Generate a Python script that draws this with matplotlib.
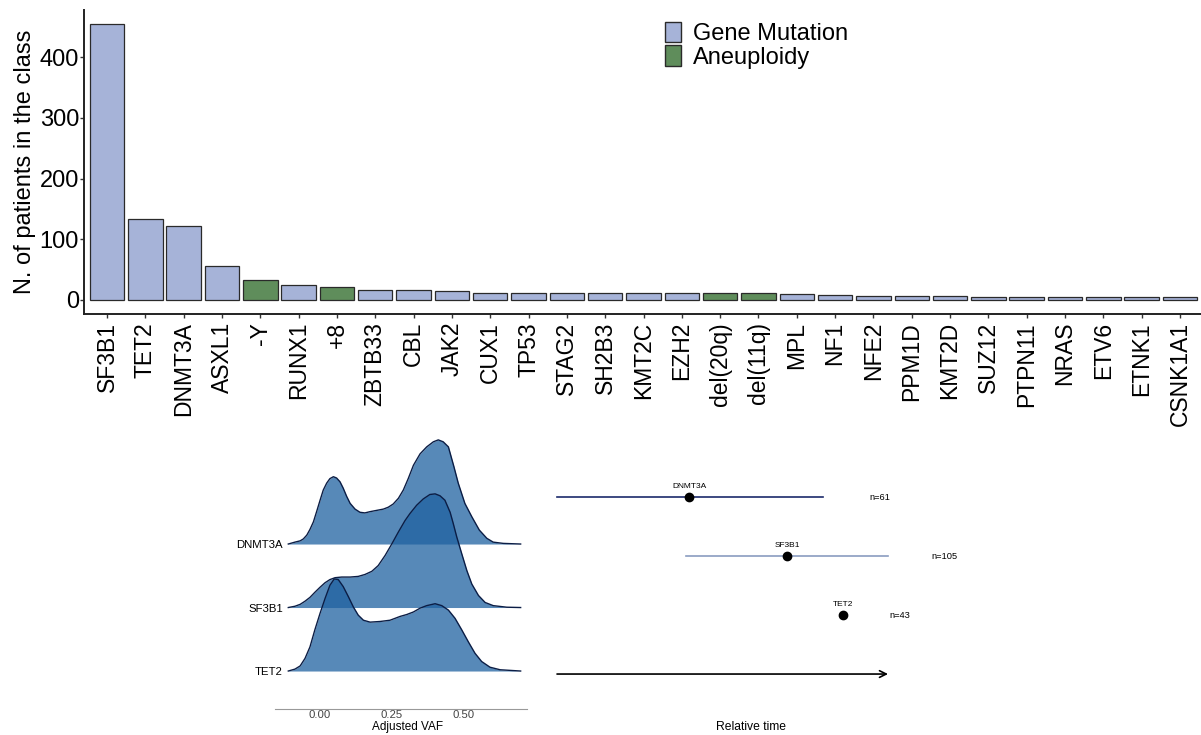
import matplotlib
matplotlib.use('Agg')
import matplotlib.pyplot as plt
from matplotlib.patches import Patch

plt.rcParams['font.family'] = ['Liberation Sans', 'DejaVu Sans']

# --- top panel: patients per class ---
genes = ['SF3B1', 'TET2', 'DNMT3A', 'ASXL1', '-Y', 'RUNX1', '+8', 'ZBTB33', 'CBL',
         'JAK2', 'CUX1', 'TP53', 'STAG2', 'SH2B3', 'KMT2C', 'EZH2', 'del(20q)',
         'del(11q)', 'MPL', 'NF1', 'NFE2', 'PPM1D', 'KMT2D', 'SUZ12', 'PTPN11',
         'NRAS', 'ETV6', 'ETNK1', 'CSNK1A1']
counts = [455, 133, 122, 56, 33, 24, 21, 17, 17, 14, 12, 12, 12, 12, 12, 12, 12,
          12, 10, 9, 7, 7, 7, 5, 5, 5, 5, 5, 5]
aneuploidy = ['-Y', '+8', 'del(20q)', 'del(11q)']

# --- bottom left: ridgelines of adjusted VAF (height in row units) ---
ridge_genes = ['TET2', 'SF3B1', 'DNMT3A']
dnmt3a_vaf = [-0.108, -0.085, -0.067, -0.056, -0.044, -0.033, -0.021, -0.010, 0.002,
              0.013, 0.025, 0.036, 0.048, 0.059, 0.071, 0.082, 0.094, 0.106, 0.123,
              0.140, 0.157, 0.175, 0.198, 0.221, 0.238, 0.255, 0.273, 0.290, 0.307,
              0.325, 0.348, 0.371, 0.394, 0.411, 0.428, 0.446, 0.465, 0.480, 0.503,
              0.527, 0.553, 0.579, 0.601, 0.636, 0.696]
dnmt3a_h = [0, 0.03, 0.05, 0.08, 0.14, 0.23, 0.35, 0.51, 0.69, 0.85, 0.96, 1.03,
            1.06, 1.04, 0.98, 0.88, 0.75, 0.64, 0.55, 0.50, 0.49, 0.51, 0.53, 0.55,
            0.58, 0.63, 0.72, 0.85, 1.03, 1.24, 1.42, 1.53, 1.61, 1.64, 1.61, 1.53,
            1.22, 0.96, 0.64, 0.43, 0.22, 0.09, 0.03, 0.01, 0]
sf3b1_vaf = [-0.108, -0.085, -0.067, -0.050, -0.033, -0.016, 0.002, 0.019, 0.036,
             0.054, 0.077, 0.106, 0.134, 0.157, 0.181, 0.203, 0.227, 0.250, 0.273,
             0.296, 0.313, 0.336, 0.359, 0.382, 0.400, 0.417, 0.434, 0.452, 0.463,
             0.475, 0.492, 0.510, 0.527, 0.550, 0.573, 0.601, 0.648, 0.696]
sf3b1_h = [0, 0.02, 0.05, 0.10, 0.16, 0.24, 0.32, 0.39, 0.44, 0.47, 0.48, 0.48,
           0.49, 0.52, 0.57, 0.66, 0.82, 1.00, 1.19, 1.37, 1.48, 1.61, 1.71, 1.78,
           1.79, 1.76, 1.69, 1.50, 1.32, 1.11, 0.85, 0.58, 0.37, 0.19, 0.08, 0.03,
           0.005, 0]
tet2_vaf = [-0.108, -0.085, -0.067, -0.050, -0.033, -0.016, 0.002, 0.019, 0.036,
            0.051, 0.065, 0.082, 0.100, 0.117, 0.134, 0.152, 0.175, 0.209, 0.244,
            0.279, 0.302, 0.325, 0.348, 0.371, 0.400, 0.423, 0.446, 0.469, 0.492,
            0.515, 0.538, 0.561, 0.590, 0.625, 0.696]
tet2_h = [0, 0.03, 0.08, 0.20, 0.38, 0.65, 0.91, 1.14, 1.35, 1.45, 1.44, 1.33,
          1.17, 1.01, 0.88, 0.80, 0.77, 0.78, 0.80, 0.86, 0.89, 0.93, 0.99, 1.03,
          1.06, 1.03, 0.96, 0.83, 0.65, 0.46, 0.28, 0.15, 0.06, 0.02, 0]
vaf_ticks = [0.00, 0.25, 0.50]

# --- bottom right: relative timing ---
time_genes = ['DNMT3A', 'SF3B1', 'TET2']
time_mid = [0.40, 0.695, 0.865]
time_lo = [0.0, 0.39, 0.865]
time_hi = [0.805, 1.0, 0.865]
time_n = [61, 105, 43]
time_colors = ['#1b2a6b', '#8a9cc0', '#1b2a6b']

W, H = 1201, 735
fig = plt.figure(figsize=(W / 100, H / 100), dpi=100)


def box(l, t, r, b):
    return [l / W, 1 - b / H, (r - l) / W, (b - t) / H]


ax = fig.add_axes(box(84, 9.8, 1203, 313.8))
cols = ['#5f8d5b' if g in aneuploidy else '#a6b3d8' for g in genes]
ax.bar(range(len(genes)), counts, width=0.9, color=cols, edgecolor='#2a2a2a', linewidth=0.9)
ax.set_xlim(-0.6, len(genes) - 0.4)
ax.set_ylim(-22.75, 477.75)
ax.set_yticks([0, 100, 200, 300, 400])
ax.set_xticks(range(len(genes)))
ax.set_xticklabels(genes, rotation=90, fontsize=16.5)
ax.tick_params(axis='y', labelsize=17, length=2.9, width=1, color='#333333', pad=0.7)
ax.tick_params(axis='x', length=2.9, width=1, color='#333333', pad=3)
for s in ['top', 'right']:
    ax.spines[s].set_visible(False)
for s in ['left', 'bottom']:
    ax.spines[s].set_linewidth(1.4)
    ax.spines[s].set_color('#222222')
ax.set_ylabel('N. of patients in the class', fontsize=17, labelpad=2.5)
ax.legend(handles=[Patch(facecolor='#a6b3d8', edgecolor='#2a2a2a', label='Gene Mutation'),
                   Patch(facecolor='#5f8d5b', edgecolor='#2a2a2a', label='Aneuploidy')],
          loc='upper left', bbox_to_anchor=(0.519, 0.96), frameon=False, fontsize=17,
          handlelength=0.68, handleheight=0.95, handletextpad=0.5, labelspacing=0.0,
          borderpad=0, borderaxespad=0)

# ridgelines
ax2 = fig.add_axes(box(275, 435, 527, 709))
ridges = [(dnmt3a_vaf, dnmt3a_h), (sf3b1_vaf, sf3b1_h), (tet2_vaf, tet2_h)]
for k, (xv, hv) in enumerate(ridges):
    base = 2 - k
    top = [base + h for h in hv]
    ax2.fill_between(xv, base, top, color='#1f62a0', alpha=0.75, linewidth=0, zorder=2 + k)
    ax2.plot(xv, top, color='#0b1d45', linewidth=1.0, zorder=2 + k)
ax2.set_xlim(-0.154, 0.718)
ax2.set_ylim(-0.598, 3.717)
ax2.set_yticks(range(len(ridge_genes)))
ax2.set_yticklabels(ridge_genes, fontsize=8.2)
ax2.tick_params(axis='y', length=0, pad=-5.8)
ax2.set_xticks(vaf_ticks)
ax2.set_xticklabels(['%.2f' % v for v in vaf_ticks], fontsize=8.2, color='#444444')
ax2.tick_params(axis='x', length=0, pad=0.6)
for s in ['top', 'right', 'left']:
    ax2.spines[s].set_visible(False)
ax2.spines['bottom'].set_color('#999999')
ax2.spines['bottom'].set_linewidth(0.8)
ax2.set_xlabel('Adjusted VAF', fontsize=8.5, va='center')
ax2.xaxis.set_label_coords(0.528, -0.066)
ax2.patch.set_alpha(0)

# relative time
ax3 = fig.add_axes(box(540, 470, 1000, 700))
for i, g in enumerate(time_genes):
    y = 3 - i
    ax3.plot([time_lo[i], time_hi[i]], [y, y], color=time_colors[i], linewidth=1.2)
    ax3.plot(time_mid[i], y, 'o', color='black', markersize=6)
    ax3.annotate(g, (time_mid[i], y), xytext=(0, 7.5), textcoords='offset points',
                 ha='center', va='center', fontsize=6)
    ax3.text(time_hi[i] + 0.17, y, 'n=%d' % time_n[i], ha='center', va='center', fontsize=6.7)
ax3.annotate('', xy=(1.0, 0), xytext=(0.0, 0),
             arrowprops=dict(arrowstyle='->', color='black', linewidth=1.2,
                             mutation_scale=12, shrinkA=0, shrinkB=0))
ax3.set_xlim(-0.0514, 1.3383)
ax3.set_ylim(-0.44, 3.458)
ax3.set_xticks([])
ax3.set_yticks([])
for s in ax3.spines.values():
    s.set_visible(False)
ax3.set_xlabel('Relative time', fontsize=8.7, va='center')
ax3.xaxis.set_label_coords(0.459, -0.117)
ax3.patch.set_alpha(0)

fig.savefig('out.png', dpi=100)
